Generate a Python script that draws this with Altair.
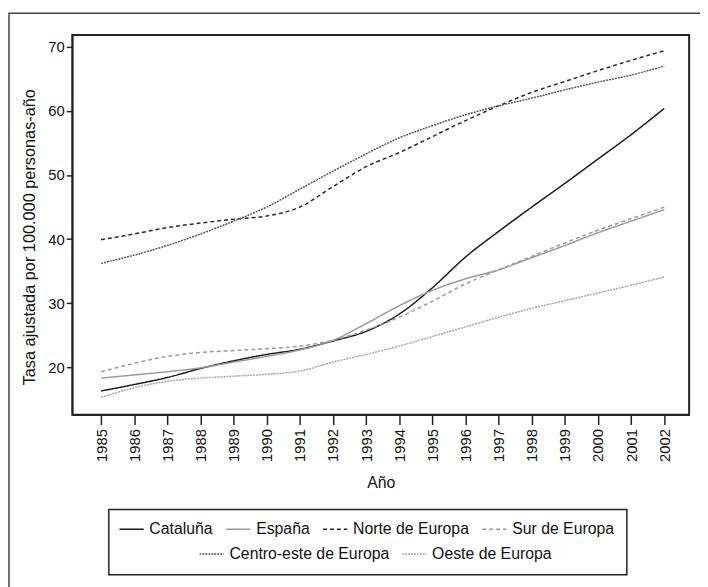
import altair as alt
import pandas as pd

years = list(range(1985, 2003))
cataluna = [16.3, 17.3, 18.4, 19.8, 21.0, 22.0, 22.8, 24.1, 25.6, 28.3, 32.4, 37.2, 41.2, 45.0, 48.7, 52.5, 56.3, 60.4]
espana = [18.3, 18.8, 19.3, 19.9, 20.8, 21.7, 22.7, 24.2, 26.8, 29.6, 32.0, 33.8, 35.2, 37.1, 39.0, 41.0, 42.8, 44.6]
norte = [39.9, 40.8, 41.8, 42.5, 43.1, 43.6, 45.0, 48.2, 51.3, 53.5, 56.0, 58.5, 60.8, 62.9, 64.6, 66.3, 67.9, 69.4]
sur = [19.3, 20.6, 21.7, 22.3, 22.6, 22.9, 23.3, 24.2, 25.8, 27.8, 30.3, 33.0, 35.2, 37.3, 39.4, 41.4, 43.2, 45.0]
centro_este = [36.2, 37.5, 39.0, 40.8, 42.8, 45.0, 47.8, 50.6, 53.3, 55.8, 57.7, 59.4, 60.8, 62.0, 63.3, 64.5, 65.6, 67.0]
oeste = [15.3, 16.8, 17.8, 18.3, 18.6, 18.9, 19.4, 20.8, 22.0, 23.3, 24.8, 26.3, 27.8, 29.2, 30.4, 31.6, 32.8, 34.1]

series_a = ["Cataluña", "España", "Norte de Europa", "Sur de Europa"]
series_b = ["Centro-este de Europa", "Oeste de Europa"]
values = {
    "Cataluña": cataluna,
    "España": espana,
    "Norte de Europa": norte,
    "Sur de Europa": sur,
    "Centro-este de Europa": centro_este,
    "Oeste de Europa": oeste,
}

colors_a = ["#1a1a1a", "#9a9a9a", "#2a2a2a", "#9a9a9a"]
dashes_a = [[1, 0], [1, 0], [4, 3], [4, 3]]
colors_b = ["#555555", "#a5a5a5"]
dashes_b = [[2, 1], [2, 1]]

rows = []
for s, vals in values.items():
    for y, v in zip(years, vals):
        rows.append({"Año": y, "tasa": v, "serie": s, "grupo": "a" if s in series_a else "b"})
df = pd.DataFrame(rows)

FONT = "Liberation Sans, Arial, sans-serif"

x_enc = alt.X("Año:Q",
              scale=alt.Scale(domain=[1984.13, 2002.75], nice=False, zero=False),
              axis=alt.Axis(values=years, format="d", labelAngle=-90, tickSize=10,
                            labelPadding=4, titlePadding=13, grid=False,
                            titleFontSize=16, title="Año"))
y_enc = alt.Y("tasa:Q",
              scale=alt.Scale(domain=[12.6, 71.85], nice=False, zero=False),
              axis=alt.Axis(values=[20, 30, 40, 50, 60, 70], tickSize=6, labelPadding=2,
                            titlePadding=10, grid=False, titleFontSize=16.5, titleY=204,
                            title="Tasa ajustada por 100.000 personas-año"))

leg_common = dict(orient="none", direction="horizontal", symbolSize=600,
                  symbolStrokeWidth=1.5, labelFontSize=16, labelFont=FONT, labelLimit=400,
                  labelColor="#111111", labelOffset=5, columnPadding=9, padding=0)

layer_a = alt.Chart(df[df.grupo == "a"]).mark_line(strokeWidth=1.5, interpolate="monotone").encode(
    x=x_enc, y=y_enc,
    color=alt.Color("serie:N", scale=alt.Scale(domain=series_a, range=colors_a), title=None,
                    legend=alt.Legend(legendX=47, legendY=487, **leg_common)),
    strokeDash=alt.StrokeDash("serie:N", scale=alt.Scale(domain=series_a, range=dashes_a), title=None,
                              legend=alt.Legend(legendX=47, legendY=487, **leg_common)),
)

layer_b = alt.Chart(df[df.grupo == "b"]).mark_line(strokeWidth=1.5, interpolate="monotone").encode(
    x=x_enc, y=y_enc,
    color=alt.Color("serie:N", scale=alt.Scale(domain=series_b, range=colors_b), title=None,
                    legend=alt.Legend(legendX=128, legendY=512, **leg_common)),
    strokeDash=alt.StrokeDash("serie:N", scale=alt.Scale(domain=series_b, range=dashes_b), title=None,
                              legend=alt.Legend(legendX=128, legendY=512, **leg_common)),
)

one = pd.DataFrame({"k": [0]})
legend_box = alt.Chart(one).mark_rect(filled=False, stroke="#222222", strokeWidth=1.5).encode(
    x=alt.value(37), x2=alt.value(561), y=alt.value(480), y2=alt.value(546))
outer_box = alt.Chart(one).mark_rect(filled=False, stroke="#444444", strokeWidth=1.5).encode(
    x=alt.value(-64), x2=alt.value(700), y=alt.value(-22), y2=alt.value(620))

chart = alt.layer(outer_box, layer_a, layer_b, legend_box).resolve_scale(
    color="independent", strokeDash="independent"
).properties(
    width=624, height=384,
    autosize=alt.AutoSizeParams(type="none"),
    padding={"left": 65, "top": 24, "right": 11, "bottom": 171},
    background="white",
).configure_view(
    stroke="#222222", strokeWidth=2
).configure_axis(
    labelFont=FONT, titleFont=FONT, labelFontSize=15, titleFontSize=15,
    labelColor="#111111", titleColor="#111111", titleFontWeight="normal",
    domainColor="#222222", tickColor="#222222", domainWidth=1.5, tickWidth=1.5,
)

chart.save("out.html", embed_options={"renderer": "svg", "actions": False})
